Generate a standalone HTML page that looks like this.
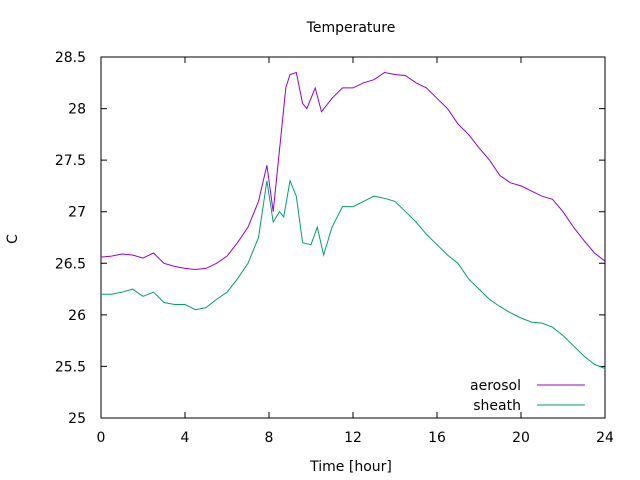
<!DOCTYPE html>
<html><head><meta charset="utf-8"><style>
body{margin:0;background:#fff}
svg{display:block;font-family:"DejaVu Sans","Liberation Sans",sans-serif;font-size:14px}
</style></head><body>
<svg id="chart" width="640" height="480" viewBox="0 0 640 480">
<rect width="640" height="480" fill="#fff"/>
<text x="351" y="32" text-anchor="middle">Temperature</text>
<text x="17" y="239" text-anchor="middle" transform="rotate(-90 17 239)">C</text>
<text x="351" y="471" text-anchor="middle">Time [hour]</text>
<g id="axes"></g>
<g id="series"></g>
<g>
<text x="521" y="390" text-anchor="end">aerosol</text>
<line x1="537" y1="385" x2="585" y2="385" stroke="#9400d3"/>
<text x="521" y="410" text-anchor="end">sheath</text>
<line x1="537" y1="405" x2="585" y2="405" stroke="#009e73"/>
</g>
</svg>
<script>
const xTicks=[0,4,8,12,16,20,24];
const yTicks=[25,25.5,26,26.5,27,27.5,28,28.5];
const yTickLabels=["25","25.5","26","26.5","27","27.5","28","28.5"];
const hours=[0,0.5,1,1.5,2,2.5,3,3.5,4,4.5,5,5.5,6,6.5,7,7.5,7.9,8.2,8.5,8.8,9.0,9.3,9.6,9.8,10.2,10.5,11,11.5,12,12.5,13,13.5,14,14.5,15,15.5,16,16.5,17,17.5,18,18.5,19,19.5,20,20.5,21,21.5,22,22.5,23,23.5,24];
const aerosol=[26.56,26.57,26.59,26.58,26.55,26.6,26.5,26.47,26.45,26.44,26.45,26.5,26.57,26.7,26.85,27.1,27.45,27.0,27.6,28.2,28.33,28.35,28.05,28.0,28.2,27.97,28.1,28.2,28.2,28.25,28.28,28.35,28.33,28.32,28.25,28.2,28.1,28.0,27.85,27.75,27.62,27.5,27.35,27.28,27.25,27.2,27.15,27.12,27.0,26.85,26.72,26.6,26.52];
const sheathHours=[0,0.5,1,1.5,2,2.5,3,3.5,4,4.5,5,5.5,6,6.5,7,7.5,7.9,8.2,8.5,8.7,9.0,9.3,9.6,10,10.3,10.6,11,11.5,12,12.5,13,13.5,14,14.5,15,15.5,16,16.5,17,17.5,18,18.5,19,19.5,20,20.5,21,21.5,22,22.5,23,23.5,24];
const sheath=[26.2,26.2,26.22,26.25,26.18,26.22,26.12,26.1,26.1,26.05,26.07,26.15,26.22,26.35,26.5,26.75,27.3,26.9,27.0,26.95,27.3,27.15,26.7,26.68,26.85,26.58,26.85,27.05,27.05,27.1,27.15,27.13,27.1,27.0,26.9,26.78,26.68,26.58,26.5,26.35,26.25,26.15,26.08,26.02,25.97,25.93,25.92,25.88,25.8,25.7,25.6,25.52,25.48];
const L=101,R=605,T=57,B=418;
const xs=v=>L+(v-0)/24*(R-L);
const ys=v=>B-(v-25)/3.5*(B-T);
const NS="http://www.w3.org/2000/svg";
const ax=document.getElementById('axes');
function mk(tag,attrs,parent){const e=document.createElementNS(NS,tag);for(const k in attrs)e.setAttribute(k,attrs[k]);parent.appendChild(e);return e;}
const frame=mk('rect',{x:L,y:T,width:R-L,height:B-T,fill:'none',stroke:'#000'},ax);


xTicks.forEach(t=>{
 const x=xs(t);
 const l1=mk('path',{d:`M${x},${B}v-6M${x},${T}v6`,stroke:'#000'},ax);
 
 
 const tx=mk('text',{x:x,y:442,'text-anchor':'middle'},ax);tx.textContent=t;
 
 
});
yTicks.forEach((t,i)=>{
 const y=ys(t);
 const l1=mk('path',{d:`M${L},${y}h6M${R},${y}h-6`,stroke:'#000'},ax);
 
 
 const tx=mk('text',{x:86,y:y+5,'text-anchor':'end'},ax);tx.textContent=yTickLabels[i];
 
 
});
const sg=document.getElementById('series');
function line(hx,vals,color,name){
 const d=vals.map((v,i)=>(i?'L':'M')+xs(hx[i]).toFixed(1)+','+ys(v).toFixed(1)).join('');
 const p=mk('path',{d:d,fill:'none',stroke:color,'stroke-width':1},sg);
 
 
}
line(hours,aerosol,'#9400d3','aerosol-line');
line(sheathHours,sheath,'#009e73','sheath-line');
</script>
</body></html>
